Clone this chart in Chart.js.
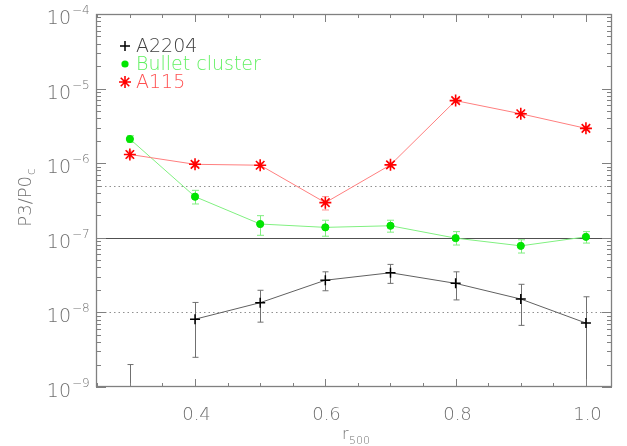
<!DOCTYPE html>
<html><head><meta charset="utf-8">
<script src="https://cdn.jsdelivr.net/npm/chart.js@4.4.0/dist/chart.umd.min.js"></script>
<style>html,body{margin:0;padding:0;background:#fff}#wrap{width:627px;height:446px;position:relative}</style>
</head><body><div id="wrap"><canvas id="c"></canvas></div>
<script>
// ---- data ----
const radii = [0.3, 0.4, 0.5, 0.6, 0.7, 0.8, 0.9, 1.0];
const a2204   = [null, 8.1e-9, 1.35e-8, 2.7e-8, 3.4e-8, 2.45e-8, 1.51e-8, 7.2e-9];
const a2204Lo = [1e-10, 2.5e-9, 7.4e-9, 1.95e-8, 2.45e-8, 1.47e-8, 6.7e-9, 1e-10];
const a2204Hi = [2.0e-9, 1.36e-8, 1.98e-8, 3.5e-8, 4.4e-8, 3.5e-8, 2.38e-8, 1.62e-8];
const bullet   = [2.11e-6, 3.56e-7, 1.53e-7, 1.38e-7, 1.45e-7, 9.9e-8, 7.8e-8, 1.03e-7];
const bulletLo = [1.9e-6, 2.84e-7, 1.08e-7, 1.05e-7, 1.19e-7, 8.0e-8, 6.25e-8, 8.5e-8];
const bulletHi = [2.33e-6, 4.33e-7, 1.98e-7, 1.72e-7, 1.72e-7, 1.21e-7, 9.4e-8, 1.21e-7];
const a115   = [1.31e-6, 9.66e-7, 9.4e-7, 2.96e-7, 9.5e-7, 6.9e-6, 4.6e-6, 2.93e-6];
const a115Lo = [1.18e-6, 8.9e-7, 8.7e-7, 2.36e-7, 8.8e-7, 6.5e-6, 4.35e-6, 2.78e-6];
const a115Hi = [1.45e-6, 1.05e-6, 1.01e-6, 3.56e-7, 1.03e-6, 7.3e-6, 4.85e-6, 3.08e-6];

const xMajorTicks = [0.4, 0.6, 0.8, 1.0];
const xMajorLabels = ['0.4', '0.6', '0.8', '1.0'];
const xMinorTicks = [0.25, 0.3, 0.35, 0.45, 0.5, 0.55, 0.65, 0.7, 0.75, 0.85, 0.9, 0.95];
const yDecadeExps = [-4, -5, -6, -7, -8, -9];
const yMinorMult = [2, 3, 4, 5, 6, 7, 8, 9];
const refSolid = [1e-7];
const refDotted = [5e-7, 1e-8];
const legendNames = ['A2204', 'Bullet cluster', 'A115'];

const FONT = "'DejaVu Sans', sans-serif";
const AX = '#808080';

function pts(ys) { return radii.map((x, i) => ({ x: x, y: ys[i] })); }

const datasets = [
  { label: legendNames[0], data: pts(a2204), errLo: a2204Lo, errHi: a2204Hi, errColor: '#707070', cap: 3,
    borderColor: '#606060', borderWidth: 1, pointStyle: 'cross', pointRadius: 5, pointBorderColor: '#000',
    pointBorderWidth: 1.5, pointBackgroundColor: '#000', spanGaps: false, order: 3 },
  { label: legendNames[1], data: pts(bullet), errLo: bulletLo, errHi: bulletHi, errColor: '#80ee80', cap: 3.5,
    borderColor: '#80f080', borderWidth: 1, pointStyle: 'circle', pointRadius: 3.6, pointBorderColor: '#00e000',
    pointBorderWidth: 1, pointBackgroundColor: '#00e600', order: 2 },
  { label: legendNames[2], data: pts(a115), errLo: a115Lo, errHi: a115Hi, errColor: '#ff9090', cap: 3.5,
    borderColor: '#ff7f7f', borderWidth: 1, pointStyle: 'star', pointRadius: 6, pointBorderColor: '#ff0000',
    pointBorderWidth: 1.6, pointBackgroundColor: '#ff0000', order: 1 }
];

const deco = {
  id: 'deco',
  beforeDatasetsDraw(chart) {
    const { ctx, chartArea: a, scales: { x, y } } = chart;
    ctx.save();
    ctx.beginPath(); ctx.rect(a.left, a.top, a.right - a.left, a.bottom - a.top); ctx.clip();
    // reference lines
    ctx.lineWidth = 1;
    refSolid.forEach(v => {
      const py = Math.round(y.getPixelForValue(v)) + 0.5;
      ctx.strokeStyle = '#505050'; ctx.setLineDash([]);
      ctx.beginPath(); ctx.moveTo(a.left, py); ctx.lineTo(a.right, py); ctx.stroke();
    });
    refDotted.forEach(v => {
      const py = Math.round(y.getPixelForValue(v)) + 0.5;
      ctx.strokeStyle = '#909090'; ctx.setLineDash([1.5, 3]);
      ctx.beginPath(); ctx.moveTo(a.left, py); ctx.lineTo(a.right, py); ctx.stroke();
    });
    ctx.setLineDash([]);
    // error bars
    chart.data.datasets.forEach(ds => {
      ctx.strokeStyle = ds.errColor; ctx.lineWidth = 1;
      radii.forEach((r, i) => {
        const px = Math.round(x.getPixelForValue(r)) + 0.5;
        const p1 = y.getPixelForValue(ds.errLo[i]);
        const p2 = y.getPixelForValue(ds.errHi[i]);
        ctx.beginPath();
        ctx.moveTo(px, p1); ctx.lineTo(px, p2);
        ctx.moveTo(px - ds.cap, p1); ctx.lineTo(px + ds.cap, p1);
        ctx.moveTo(px - ds.cap, p2); ctx.lineTo(px + ds.cap, p2);
        ctx.stroke();
      });
    });
    ctx.restore();
  },
  afterDraw(chart) {
    const { ctx, chartArea: a, scales: { x, y } } = chart;
    ctx.save();
    // box
    ctx.strokeStyle = AX; ctx.lineWidth = 1.3;
    ctx.strokeRect(a.left + 0.5, a.top + 0.5, a.right - a.left - 1, a.bottom - a.top - 1);
    ctx.lineWidth = 1;
    // y ticks
    yDecadeExps.forEach(e => {
      const v = Math.pow(10, e);
      const py = Math.round(y.getPixelForValue(v)) + 0.5;
      ctx.beginPath();
      ctx.moveTo(a.left, py); ctx.lineTo(a.left + 10, py);
      ctx.moveTo(a.right, py); ctx.lineTo(a.right - 10, py);
      ctx.stroke();
      if (e > -4) {}
      yMinorMult.forEach(m => {
        const mv = m * Math.pow(10, e);
        if (mv > 1e-4) return;
        const my = Math.round(y.getPixelForValue(mv)) + 0.5;
        ctx.beginPath();
        ctx.moveTo(a.left, my); ctx.lineTo(a.left + 5, my);
        ctx.moveTo(a.right, my); ctx.lineTo(a.right - 5, my);
        ctx.stroke();
      });
      // label
      ctx.fillStyle = '#707070';
      ctx.textBaseline = 'alphabetic';
      ctx.font = '300 19px ' + FONT;
      ctx.textAlign = 'right';
      ctx.fillText('10', 71, py + 9);
      ctx.font = '300 12px ' + FONT;
      ctx.textAlign = 'left';
      ctx.fillText('\u2212' + Math.abs(e), 72, py - 1);
    });
    // x ticks
    xMajorTicks.forEach((t, i) => {
      const px = Math.round(x.getPixelForValue(t)) + 0.5;
      ctx.beginPath();
      ctx.moveTo(px, a.bottom); ctx.lineTo(px, a.bottom - 8);
      ctx.moveTo(px, a.top); ctx.lineTo(px, a.top + 8);
      ctx.stroke();
      ctx.fillStyle = '#707070';
      ctx.font = '300 18px ' + FONT;
      ctx.textAlign = 'center'; ctx.textBaseline = 'alphabetic';
      ctx.fillText(xMajorLabels[i], px + 1, a.bottom + 33);
    });
    xMinorTicks.forEach(t => {
      const px = Math.round(x.getPixelForValue(t)) + 0.5;
      ctx.beginPath();
      ctx.moveTo(px, a.bottom); ctx.lineTo(px, a.bottom - 4);
      ctx.moveTo(px, a.top); ctx.lineTo(px, a.top + 4);
      ctx.stroke();
    });
    // x title
    ctx.fillStyle = '#707070';
    ctx.textAlign = 'left';
    ctx.font = '300 16px ' + FONT;
    ctx.fillText('r', 342, 439);
    ctx.font = '300 11px ' + FONT;
    ctx.fillText('500', 349, 444);
    // y title
    ctx.save();
    ctx.translate(31, 198);
    ctx.rotate(-Math.PI / 2);
    ctx.font = '300 18px ' + FONT;
    const w1 = ctx.measureText('P3/P0').width;
    ctx.font = '300 12px ' + FONT;
    const w2 = ctx.measureText('c').width;
    const sx = -(w1 + w2) / 2;
    ctx.font = '300 18px ' + FONT;
    ctx.fillText('P3/P0', sx, 0);
    ctx.font = '300 12px ' + FONT;
    ctx.fillText('c', sx + w1 + 1, 4);
    ctx.restore();
    // legend
    const lx = 125, ly = [46, 64, 82];
    ctx.lineWidth = 1.5;
    ctx.strokeStyle = '#000';
    ctx.beginPath();
    ctx.moveTo(lx - 5, ly[0]); ctx.lineTo(lx + 5, ly[0]);
    ctx.moveTo(lx, ly[0] - 5); ctx.lineTo(lx, ly[0] + 5);
    ctx.stroke();
    ctx.fillStyle = '#00e600';
    ctx.beginPath(); ctx.arc(lx, ly[1], 3.6, 0, Math.PI * 2); ctx.fill();
    ctx.strokeStyle = '#ff0000'; ctx.lineWidth = 1.6;
    ctx.beginPath();
    for (let k = 0; k < 4; k++) {
      const ang = k * Math.PI / 4;
      ctx.moveTo(lx - 6 * Math.cos(ang), ly[2] - 6 * Math.sin(ang));
      ctx.lineTo(lx + 6 * Math.cos(ang), ly[2] + 6 * Math.sin(ang));
    }
    ctx.stroke();
    const lcol = ['#404040', '#60f060', '#ff5050'];
    ctx.font = '300 19px ' + FONT;
    ctx.textBaseline = 'middle'; ctx.textAlign = 'left';
    legendNames.forEach((n, i) => { ctx.fillStyle = lcol[i]; ctx.fillText(n, 136, ly[i] + 1); });
    ctx.restore();
  }
};

new Chart(document.getElementById('c'), {
  type: 'line',
  data: { datasets: datasets },
  options: {
    responsive: true, maintainAspectRatio: false, animation: false,
    layout: { padding: { left: 96, right: 15, top: 14, bottom: 59 } },
    plugins: { legend: { display: false }, tooltip: { enabled: false } },
    elements: { line: { tension: 0 } },
    scales: {
      x: { type: 'linear', min: 0.248, max: 1.04, display: false },
      y: { type: 'logarithmic', min: 1e-9, max: 1e-4, display: false }
    }
  },
  plugins: [deco]
});
</script>
</body></html>
